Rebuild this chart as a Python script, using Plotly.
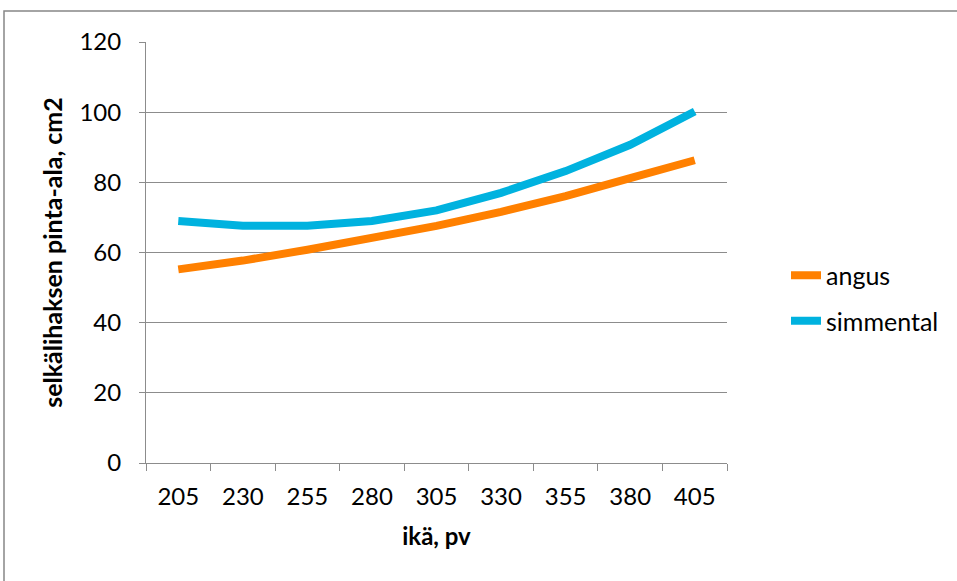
import plotly.graph_objects as go

# Age in days (category axis) and loin muscle area (cm2) by breed
ika_pv = ["205", "230", "255", "280", "305", "330", "355", "380", "405"]
angus = [55.2, 57.7, 60.8, 64.1, 67.6, 71.6, 76.1, 81.2, 86.3]
simmental = [69.0, 67.6, 67.6, 69.0, 72.0, 77.0, 83.2, 90.7, 100.2]

ORANGE = "#FF8000"
BLUE = "#00B2DF"
GRID = "#8C8C8C"
FONT = "Lato, 'Open Sans', sans-serif"

fig = go.Figure()
fig.add_trace(go.Scatter(
    x=ika_pv, y=angus, name="angus", mode="lines",
    line=dict(color=ORANGE, width=8), legendgroup="a",
))
fig.add_trace(go.Scatter(
    x=ika_pv, y=simmental, name="simmental", mode="lines",
    line=dict(color=BLUE, width=8), legendgroup="s",
))

W, H = 957, 581
L, R, T, B = 146, 727, 42, 463  # plot area in pixels

def px_x(px):
    return (px - L) / (R - L)

def px_y(py):
    return (B - py) / (B - T)

fig.update_layout(
    width=W, height=H,
    margin=dict(l=L, r=W - R, t=T, b=H - B, pad=0),
    paper_bgcolor="white", plot_bgcolor="white",
    font=dict(family=FONT, size=24, color="black"),
    showlegend=True,
    legend=dict(
        x=px_x(786), y=px_y(298), xanchor="left", yanchor="middle",
        font=dict(size=25, color="black"), tracegroupgap=10,
        bgcolor="rgba(0,0,0,0)", traceorder="grouped",
    ),
    xaxis=dict(
        type="category", range=[-0.5, len(ika_pv) - 0.5],
        tickson="boundaries", ticks="outside", ticklen=7,
        tickcolor=GRID, showline=True, linecolor=GRID, linewidth=1,
        showgrid=False, zeroline=False, ticklabelstandoff=12,
        title=dict(text="<b>ikä, pv</b>", font=dict(size=24), standoff=19),
        fixedrange=True,
    ),
    yaxis=dict(
        range=[0, 120], dtick=20, ticks="outside", ticklen=6,
        tickcolor=GRID, showline=True, linecolor=GRID, linewidth=1,
        showgrid=True, gridcolor=GRID, gridwidth=1, zeroline=False,
        ticklabelstandoff=13,
        title=dict(text="<b>selkälihaksen pinta-ala, cm2</b>", font=dict(size=25), standoff=9),
        fixedrange=True,
    ),
    shapes=[
        dict(
            type="rect", xref="paper", yref="paper",
            x0=px_x(4), x1=px_x(962), y0=px_y(590), y1=px_y(11),
            line=dict(color="#878787", width=1.5), fillcolor="rgba(0,0,0,0)",
            layer="below",
        )
    ],
)

fig.write_html("out.html")
